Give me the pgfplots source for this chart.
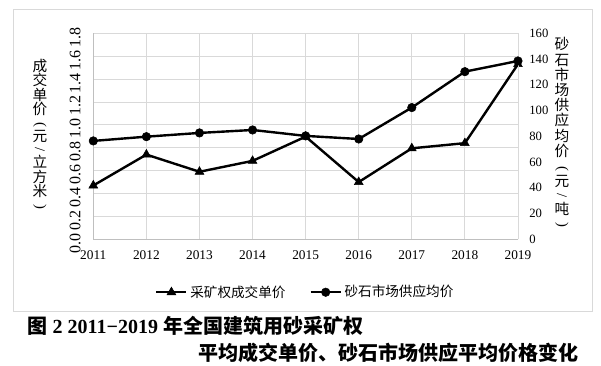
\documentclass[border=0pt]{standalone}
\usepackage{fontspec}
\setmainfont{Liberation Serif}
\newfontfamily\cjk{Noto Sans CJK SC}
\usepackage{graphicx}
\usepackage{pgfplots}
\usepackage{pgfplotstable}
\pgfplotsset{compat=1.18}
\definecolor{gridc}{HTML}{D9D9D9}
\definecolor{axc}{HTML}{BFBFBF}

\pgfplotstableread{
year tri circ
2011 0.47 76.4
2012 0.74 79.7
2013 0.59 82.6
2014 0.685 84.9
2015 0.897 80.3
2016 0.50 77.9
2017 0.795 102.3
2018 0.84 130.2
2019 1.53 138.5
}\datatable

\newcommand{\vlp}{\rotatebox[origin=c]{-90}{\rmfamily (}}
\newcommand{\vrp}{\rotatebox[origin=c]{-90}{\rmfamily )}}
\newcommand{\vsl}{\rotatebox[origin=c]{-90}{\rmfamily /}}

\begin{document}
\begin{tikzpicture}
\useasboundingbox (0,0) rectangle (450.75pt,274.5pt);
\draw[gridc, line width=0.75pt] (9.75pt,40.5pt) rectangle (444pt,267pt);
\begin{axis}[
  at={(69.98pt,95.03pt)}, anchor=south west,
  scale only axis, width=318.5pt, height=154.5pt,
  xmin=2011, xmax=2019, ymin=0, ymax=1.8,
  xtick={2011,2012,2013,2014,2015,2016,2017,2018,2019},
  ytick={0,0.2,0.4,0.6,0.8,1.0,1.2,1.4,1.6,1.8},
  grid=major, major grid style={gridc, line width=0.6pt},
  axis x line*=bottom, axis y line*=left,
  axis line style={axc, line width=0.75pt},
  major tick length=0pt,
  clip=false,
  /pgf/number format/assume math mode=true,
  /pgf/number format/1000 sep={},
  xticklabel style={font=\fontsize{10}{11}\selectfont, yshift=-5pt},
  yticklabel style={font=\fontsize{12}{13}\selectfont, xshift=-6pt, rotate=90, anchor=south, xshift=-3pt,
    /pgf/number format/.cd, fixed, fixed zerofill, precision=1, assume math mode=true},
  legend style={at={(0.5,-0.257)}, anchor=center, draw=none, fill=none,
    legend columns=2, font=\cjk\fontsize{10.2}{12}\selectfont,
    /tikz/every even column/.append style={column sep=16pt}},
  legend image code/.code={\draw[mark repeat=2,mark phase=2,#1] plot coordinates {(0pt,0pt) (11.25pt,0pt) (22.5pt,0pt)};},
]
\addplot[black, line width=1.8pt, mark=triangle*, mark size=3.8pt, mark options={line width=0.4pt}] table[x=year,y=tri] {\datatable};
\addlegendentry{采矿权成交单价}
\addlegendimage{black, line width=1.8pt, mark=*, mark size=3.2pt, mark options={line width=0.4pt}}
\addlegendentry{砂石市场供应均价}
\end{axis}
\begin{axis}[
  at={(69.98pt,95.03pt)}, anchor=south west,
  scale only axis, width=318.5pt, height=154.5pt,
  xmin=2011, xmax=2019, ymin=0, ymax=160,
  axis x line=none, axis y line*=right,
  axis line style={gridc, line width=0.6pt},
  ytick={0,20,40,60,80,100,120,140,160},
  major tick length=0pt,
  clip=false,
  /pgf/number format/assume math mode=true,
  yticklabel style={font=\fontsize{9.5}{11}\selectfont, anchor=west, xshift=5pt},
]
\addplot[black, line width=1.8pt, mark=*, mark size=3.2pt, mark options={line width=0.4pt}] table[x=year,y=circ] {\datatable};
\end{axis}
\node[align=center, font=\cjk\fontsize{11}{10.9}\selectfont] at (30pt,173.6pt)
  {成\\交\\单\\价\\[-1pt]\vlp\\[-1pt]元\\[-1pt]\vsl\\[-1pt]立\\方\\米\\[-1pt]\vrp};
\node[align=center, font=\cjk\fontsize{11}{11.4}\selectfont] at (421.5pt,174.75pt)
  {砂\\石\\市\\场\\供\\应\\均\\价\\[1pt]\vlp\\[-1pt]元\\[-1pt]\vsl\\[-1pt]吨\\[-1pt]\vrp};
\node[anchor=west, font=\fontsize{15}{16}\selectfont\bfseries] at (17.25pt,30pt)
  {{\cjk 图} 2 2011−2019 {\cjk 年全国建筑用砂采矿权}};
\node[anchor=east, font=\cjk\fontsize{15}{16}\selectfont\bfseries] at (437.25pt,9.75pt)
  {平均成交单价、砂石市场供应平均价格变化};
\end{tikzpicture}
\end{document}
